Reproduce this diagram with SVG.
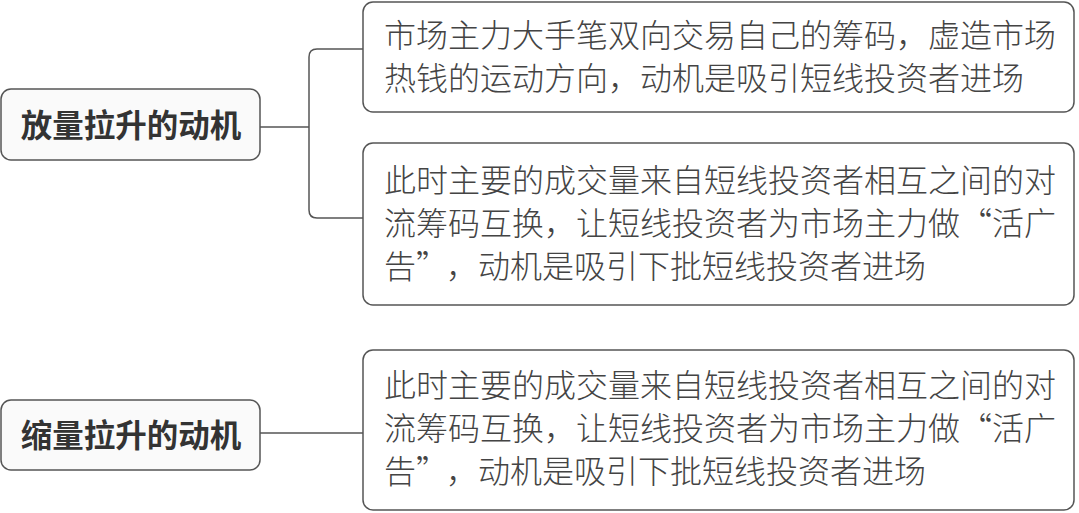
<svg xmlns="http://www.w3.org/2000/svg" width="1079" height="513" viewBox="0 0 1079 513">
<style>
.root rect{fill:#fafafa;stroke:#555;stroke-width:1.5}
.leaf rect{fill:#fff;stroke:#555;stroke-width:1.5}
.root text{font-family:"Noto Sans CJK SC","Noto Sans CJK JP",sans-serif;font-size:31.5px;font-weight:bold;fill:#333;text-anchor:middle}
.leaf text{font-family:"Noto Sans CJK SC","Noto Sans CJK JP",sans-serif;font-size:32px;font-weight:300;fill:#444}
.conn path{fill:none;stroke:#555;stroke-width:1.5}
</style>
<rect width="1079" height="513" fill="#fff"/>
<g class="conn">
<path d="M260 127 H309"/>
<path d="M363 49 H317 Q309 49 309 57 V210 Q309 218 317 218 H363"/>
<path d="M260 433 H363"/>
</g>
<g id="n1" class="root">
<rect x="1" y="89" width="259" height="71" rx="10"/>
<text x="131" y="137">放量拉升的动机</text>
</g>
<g id="n2" class="root">
<rect x="1" y="400" width="259" height="70" rx="10"/>
<text x="131" y="447">缩量拉升的动机</text>
</g>
<g id="n3" class="leaf">
<rect x="363" y="2" width="711" height="110" rx="10"/>
<text x="384" y="47">市场主力大手笔双向交易自己的筹码，虚造市场</text>
<text x="384" y="90">热钱的运动方向，动机是吸引短线投资者进场</text>
</g>
<g id="n4" class="leaf">
<rect x="363" y="143" width="711" height="162" rx="10"/>
<text x="384" y="192">此时主要的成交量来自短线投资者相互之间的对</text>
<text x="384" y="235">流筹码互换，让短线投资者为市场主力做“活广</text>
<text x="384" y="278">告”<tspan dx="14">，动机是吸引下批短线投资者进场</tspan></text>
</g>
<g id="n5" class="leaf">
<rect x="363" y="350" width="711" height="160" rx="10"/>
<text x="384" y="397">此时主要的成交量来自短线投资者相互之间的对</text>
<text x="384" y="440">流筹码互换，让短线投资者为市场主力做“活广</text>
<text x="384" y="483">告”<tspan dx="14">，动机是吸引下批短线投资者进场</tspan></text>
</g>
</svg>
